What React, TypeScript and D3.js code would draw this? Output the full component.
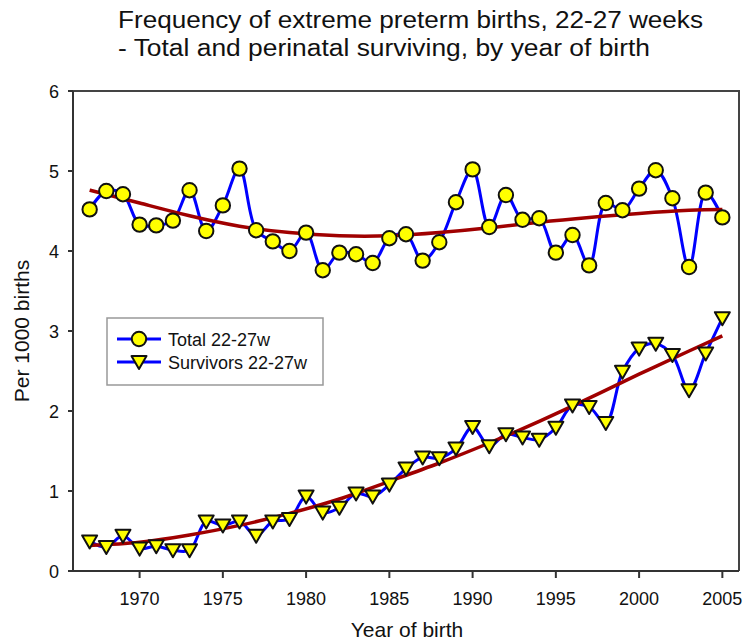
import * as d3 from "d3";

// year of birth
const years = d3.range(1967, 2006);

// total extreme preterm births per 1000, 22-27 weeks
const totalValues = [
  4.52, 4.75, 4.71, 4.33, 4.32, 4.38, 4.76, 4.25, 4.57, 5.03,
  4.26, 4.12, 4.0, 4.23, 3.76, 3.98, 3.96, 3.85, 4.16, 4.21,
  3.88, 4.11, 4.61, 5.02, 4.3, 4.7, 4.39, 4.41, 3.98, 4.2,
  3.82, 4.6, 4.51, 4.78, 5.01, 4.66, 3.8, 4.73, 4.42,
];

// perinatal survivors per 1000
const survivorValues = [
  0.37, 0.3, 0.44, 0.28, 0.31, 0.26, 0.26, 0.62, 0.57, 0.62,
  0.44, 0.62, 0.65, 0.93, 0.73, 0.79, 0.97, 0.93, 1.08, 1.28,
  1.42, 1.41, 1.53, 1.8, 1.56, 1.71, 1.67, 1.64, 1.79, 2.07,
  2.05, 1.85, 2.49, 2.78, 2.84, 2.7, 2.26, 2.72, 3.16,
];

// fitted trend lines
const trendYears = [1967, 1970, 1973, 1976, 1979, 1982, 1985, 1988, 1991, 1994, 1997, 2000, 2003, 2005];
const totalTrend = [4.76, 4.6, 4.44, 4.31, 4.23, 4.19, 4.19, 4.23, 4.29, 4.36, 4.42, 4.47, 4.51, 4.52];
const survivorTrend = [0.32, 0.36, 0.45, 0.57, 0.72, 0.9, 1.12, 1.35, 1.6, 1.87, 2.16, 2.46, 2.75, 2.94];

const xTicks = [1970, 1975, 1980, 1985, 1990, 1995, 2000, 2005];
const yTicks = [0, 1, 2, 3, 4, 5, 6];

const legendLabels = ["Total 22-27w", "Survivors 22-27w"];

const W = 744;
const H = 644;
const plot = { left: 73, right: 739, top: 91, bottom: 571 };
const font = "'Liberation Sans', Arial, sans-serif";

const x = d3.scaleLinear().domain([1966, 2006]).range([plot.left, plot.right]);
const y = d3.scaleLinear().domain([0, 6]).range([plot.bottom, plot.top]);

const dataLine = d3
  .line<[number, number]>()
  .x((d) => x(d[0]))
  .y((d) => y(d[1]))
  .curve(d3.curveCatmullRom.alpha(0.5));

const trendLine = d3
  .line<[number, number]>()
  .x((d) => x(d[0]))
  .y((d) => y(d[1]))
  .curve(d3.curveNatural);

const tri = (cx: number, cy: number) =>
  `M${cx - 7.5},${cy - 6}L${cx + 7.5},${cy - 6}L${cx},${cy + 7}Z`;

export default function App() {
  const totalPts = years.map((yr, i) => [yr, totalValues[i]] as [number, number]);
  const survPts = years.map((yr, i) => [yr, survivorValues[i]] as [number, number]);
  const totalTrendPts = trendYears.map((yr, i) => [yr, totalTrend[i]] as [number, number]);
  const survTrendPts = trendYears.map((yr, i) => [yr, survivorTrend[i]] as [number, number]);

  return (
    <svg
      width={W}
      height={H}
      style={{ position: "absolute", left: 0, top: 0, background: "#fff" }}
      fontFamily={font}
    >
      <rect width={W} height={H} fill="#fff" />

      {/* title */}
      <text x={118} y={28} fontSize={23} fill="#111" textLength={585} lengthAdjust="spacingAndGlyphs">
        Frequency of extreme preterm births, 22-27 weeks
      </text>
      <text x={118} y={56} fontSize={23} fill="#111" textLength={532} lengthAdjust="spacingAndGlyphs">
        - Total and perinatal surviving, by year of birth
      </text>

      {/* frame */}
      <path
        d={`M${plot.left},${plot.top}H${plot.right}V${plot.bottom}`}
        fill="none"
        stroke="#444"
        strokeWidth={2}
      />
      <line x1={plot.left} x2={plot.left} y1={plot.top} y2={plot.bottom} stroke="#333" strokeWidth={2} />
      <line x1={plot.left} x2={plot.right} y1={plot.bottom} y2={plot.bottom} stroke="#333" strokeWidth={2} />

      {/* y axis */}
      {yTicks.map((t) => (
        <g key={t}>
          <line x1={plot.left - 5} x2={plot.left} y1={y(t)} y2={y(t)} stroke="#333" strokeWidth={2} />
          <text x={59} y={y(t) + 6.5} fontSize={18} textAnchor="end" fill="#111">
            {t}
          </text>
        </g>
      ))}

      {/* x axis */}
      {xTicks.map((t) => (
        <g key={t}>
          <line x1={x(t)} x2={x(t)} y1={plot.bottom} y2={plot.bottom + 7} stroke="#333" strokeWidth={2} />
          <text x={x(t)} y={605} fontSize={18} textAnchor="middle" fill="#111">
            {t}
          </text>
        </g>
      ))}

      <text x={407} y={637} fontSize={21} textAnchor="middle" fill="#111">
        Year of birth
      </text>
      <text
        transform={`translate(29,${(plot.top + plot.bottom) / 2}) rotate(-90)`}
        fontSize={21}
        textAnchor="middle"
        fill="#111"
      >
        Per 1000 births
      </text>

      {/* data lines */}
      <path d={dataLine(totalPts) ?? ""} fill="none" stroke="#0000ff" strokeWidth={3} />
      <path d={dataLine(survPts) ?? ""} fill="none" stroke="#0000ff" strokeWidth={3} />

      {/* trend lines */}
      <path d={trendLine(totalTrendPts) ?? ""} fill="none" stroke="#a00000" strokeWidth={3.5} />
      <path d={trendLine(survTrendPts) ?? ""} fill="none" stroke="#a00000" strokeWidth={3.5} />

      {/* markers */}
      {totalPts.map((d) => (
        <circle key={`c${d[0]}`} cx={x(d[0])} cy={y(d[1])} r={7.2} fill="#ffff00" stroke="#111" strokeWidth={2} />
      ))}
      {survPts.map((d) => (
        <path key={`t${d[0]}`} d={tri(x(d[0]), y(d[1]))} fill="#ffff00" stroke="#111" strokeWidth={2} strokeLinejoin="round" />
      ))}

      {/* legend */}
      <rect x={107} y={318} width={216} height={67} fill="#fff" stroke="#999" strokeWidth={1.5} />
      {legendLabels.map((label, i) => {
        const ly = 339 + i * 23;
        return (
          <g key={label}>
            <line x1={117} x2={161} y1={ly} y2={ly} stroke="#0000ff" strokeWidth={3} />
            {i === 0 ? (
              <circle cx={139} cy={ly} r={7.2} fill="#ffff00" stroke="#111" strokeWidth={2} />
            ) : (
              <path d={tri(139, ly)} fill="#ffff00" stroke="#111" strokeWidth={2} strokeLinejoin="round" />
            )}
            <text x={168} y={ly + 6.5} fontSize={18} fill="#111">
              {label}
            </text>
          </g>
        );
      })}
    </svg>
  );
}
